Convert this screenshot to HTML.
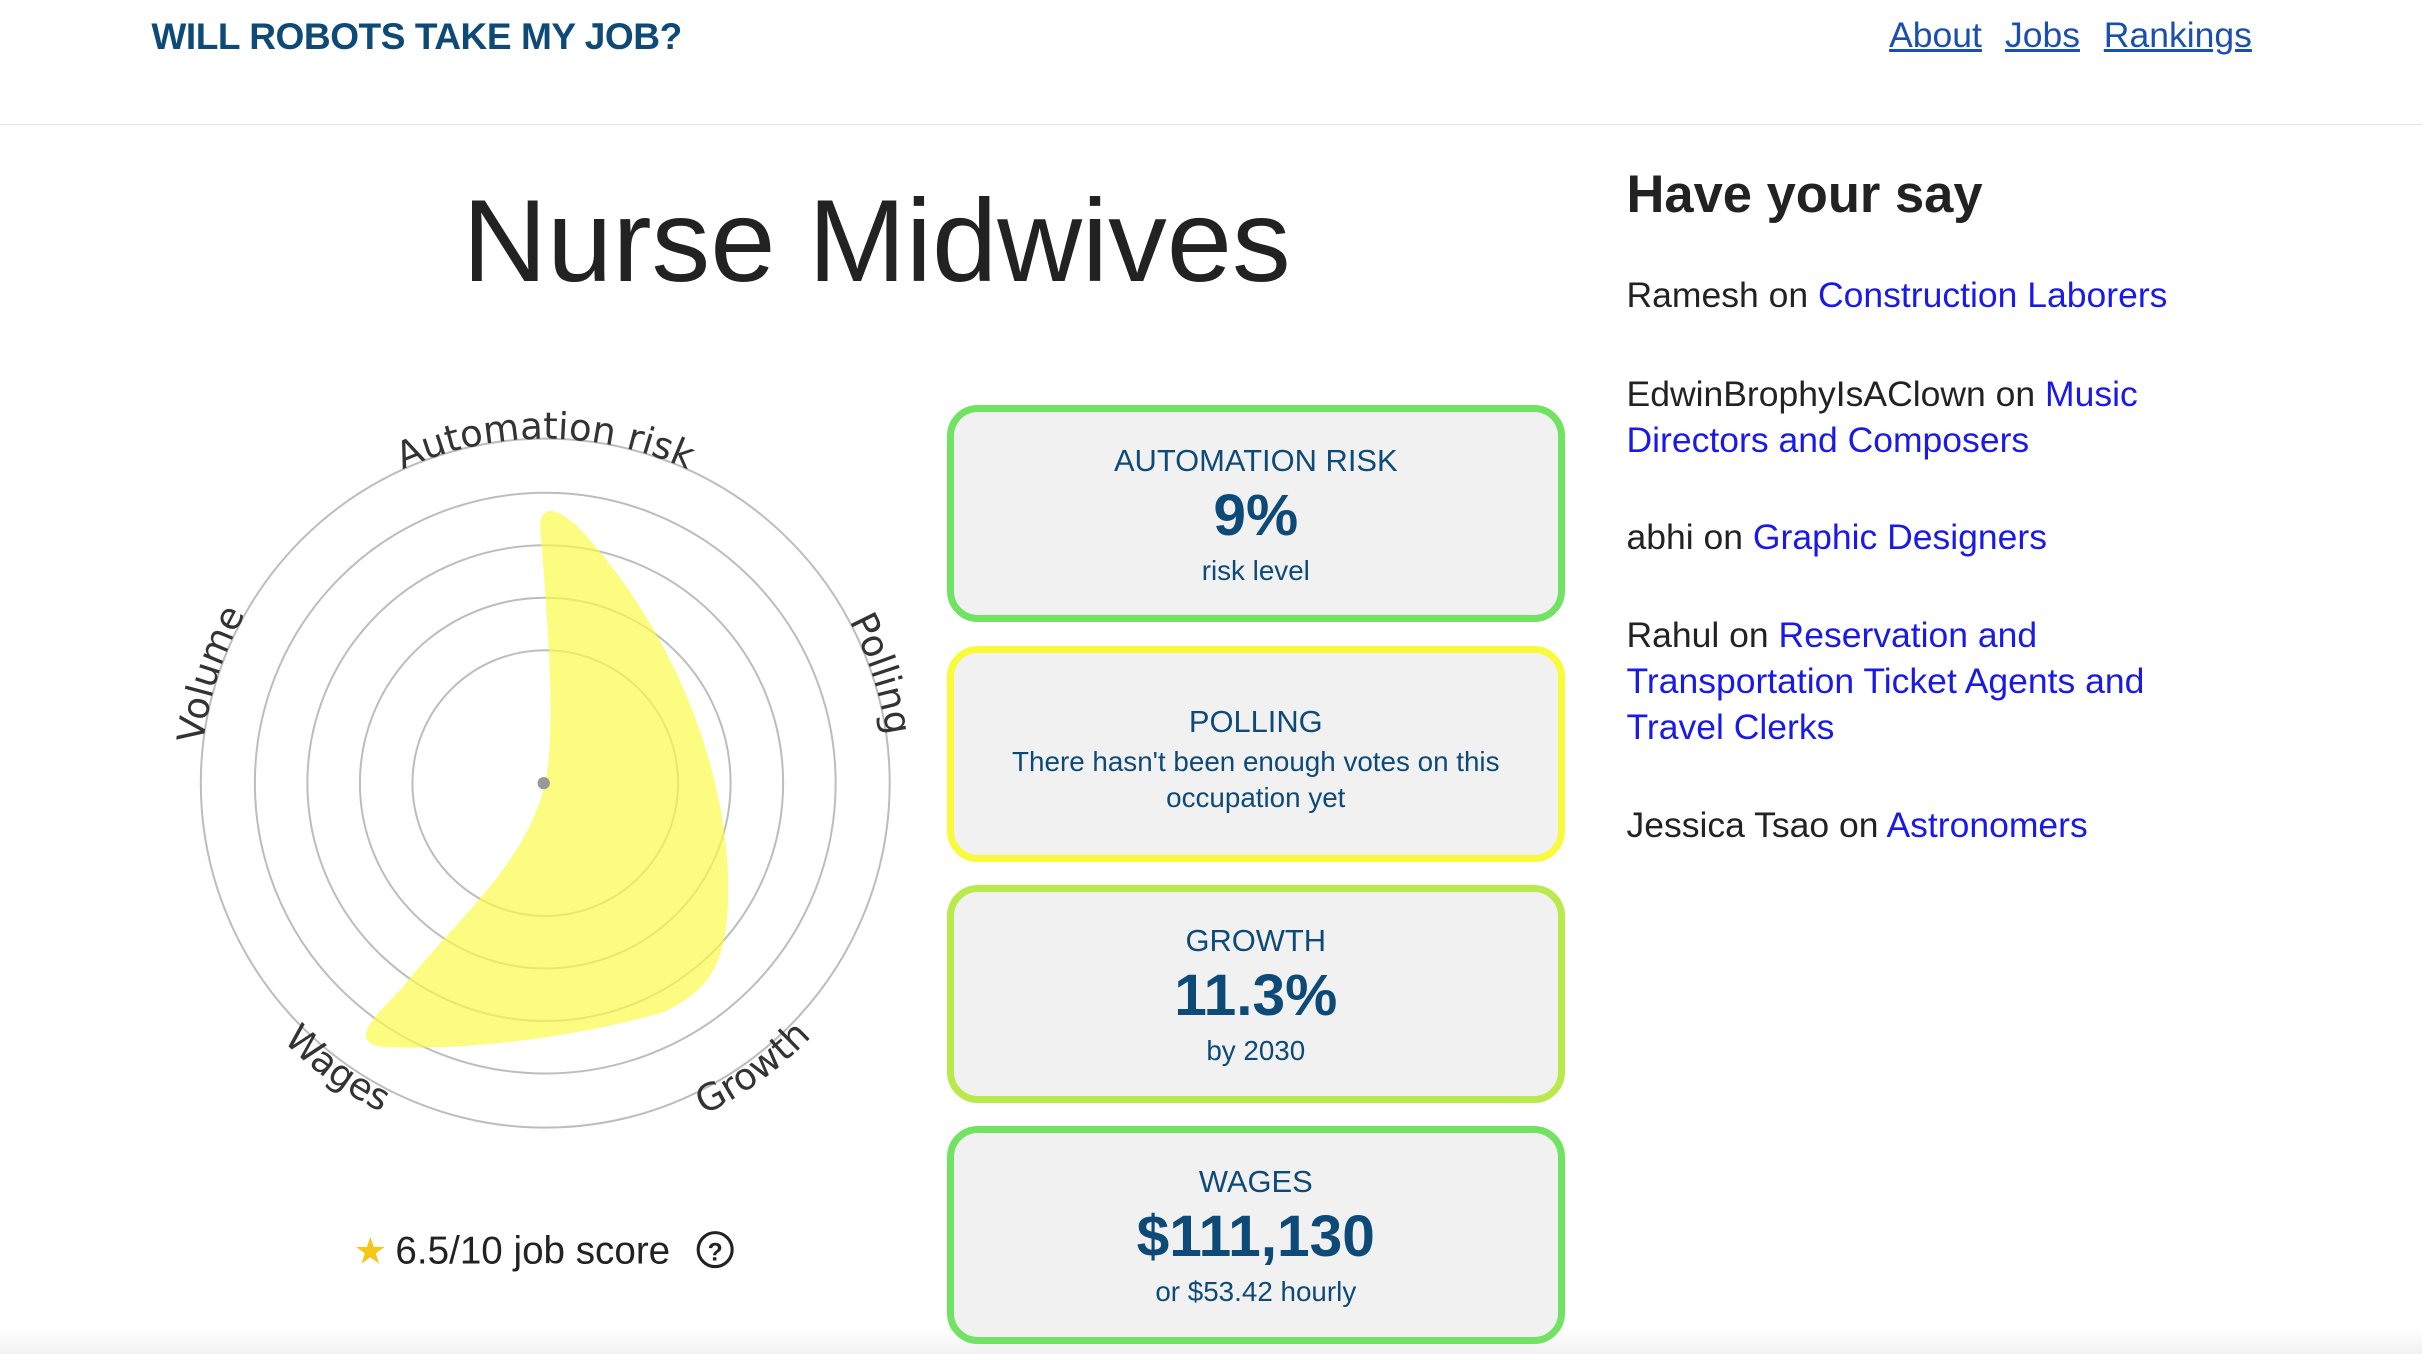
<!DOCTYPE html>
<html><head><meta charset="utf-8"><style>
html,body{margin:0;padding:0;background:#fff;overflow:hidden}
body{width:2422px;height:1354px}
#w{width:1568px;height:877px;position:relative;zoom:1.54464;font-family:"Liberation Sans",sans-serif}
.a{position:absolute}
.brand{left:98px;top:10px;font-size:24px;font-weight:bold;color:#0d4a78;letter-spacing:-0.3px}
.nav{top:10px;font-size:23px;color:#1a4fb0;text-decoration:underline}
.hr{left:0;top:80px;width:1568px;height:1px;background:#e6e6e6}
.h1{left:180px;width:775px;text-align:center;top:112px;font-size:76px;color:#222;font-weight:300;letter-spacing:0px}
.card{left:613px;width:400px;border:5px solid;border-radius:20px;background:#f1f1f1;text-align:center;color:#0d4a78;box-sizing:border-box}
.t{font-size:20px}
.v{font-size:38px;font-weight:bold}
.s{font-size:18px}
.side{left:1053px;font-size:23px;color:#222;line-height:30px;width:380px}
.side a{color:#1a1ae6;text-decoration:none}
</style></head><body><div id="w">
<div class="a" style="left:0;top:862px;width:1568px;height:15px;background:linear-gradient(#fff,#f0f0f0)"></div>
<div class="a brand">WILL ROBOTS TAKE MY JOB?</div>
<div class="a nav" style="left:1223px">About</div>
<div class="a nav" style="left:1298px">Jobs</div>
<div class="a nav" style="left:1362px">Rankings</div>
<div class="a hr"></div>
<div class="a h1">Nurse Midwives</div>
<svg class="a" style="left:0;top:0" width="610" height="877">
<g fill="none" stroke="#bdbdbd" stroke-width="1.3">
<circle cx="353" cy="507" r="223"/><circle cx="353" cy="507" r="188"/><circle cx="353" cy="507" r="154"/><circle cx="353" cy="507" r="120"/><circle cx="353" cy="507" r="86"/></g>
<path d="M353,507 C360,470 355,410 350,345 C348,325 360,328 375,342 C420,390 465,470 471,560 C474,620 462,640 430,655 C380,670 310,680 250,678 C225,676 240,660 260,640 C300,590 340,560 353,507 Z" fill="#fbfb4c" fill-opacity="0.7"/>
<circle cx="352" cy="507" r="4" fill="#999"/>
<defs>
<path id="c1" d="M130,507 A223,223 0 0 1 576,507"/>
<path id="c2" d="M115,507 A238,238 0 0 0 591,507"/>
</defs>
<g font-family="'DejaVu Sans',sans-serif" font-size="24" fill="#333">
<text><textPath href="#c1" startOffset="50%" text-anchor="middle" dy="-18">Automation risk</textPath></text>
<text transform="rotate(-72 353 507)"><textPath href="#c1" startOffset="50%" text-anchor="middle" dy="-18">Volume</textPath></text>
<text transform="rotate(72 353 507)"><textPath href="#c1" startOffset="50%" text-anchor="middle" dy="-18">Polling</textPath></text>
<text transform="rotate(-36 353 507)"><textPath href="#c2" startOffset="50%" text-anchor="middle" dy="20">Growth</textPath></text>
<text transform="rotate(36 353 507)"><textPath href="#c2" startOffset="50%" text-anchor="middle" dy="20">Wages</textPath></text>
</g>
<text x="229" y="818" font-size="24" fill="#f5c518">★</text>
<text x="256" y="818" font-family="Liberation Sans,sans-serif" font-size="25" fill="#222">6.5/10 job score</text>
<circle cx="463" cy="809" r="11" fill="none" stroke="#222" stroke-width="2"/>
<text x="463" y="816" font-size="16" font-weight="bold" text-anchor="middle" fill="#222">?</text>
</svg>
<div class="a card" style="top:262px;height:141px;border-color:#72e262"><div class="t" style="margin-top:20px">AUTOMATION RISK</div><div class="v" style="margin-top:2px">9%</div><div class="s" style="margin-top:4px">risk level</div></div>
<div class="a card" style="top:418px;height:140px;border-color:#fafa3c"><div class="t" style="margin-top:33px">POLLING</div><div class="s" style="margin-top:3px;line-height:23px">There hasn't been enough votes on this<br>occupation yet</div></div>
<div class="a card" style="top:573px;height:141px;border-color:#b9ea4c"><div class="t" style="margin-top:20px">GROWTH</div><div class="v" style="margin-top:2px">11.3%</div><div class="s" style="margin-top:4px">by 2030</div></div>
<div class="a card" style="top:729px;height:141px;border-color:#72e262"><div class="t" style="margin-top:20px">WAGES</div><div class="v" style="margin-top:2px">$111,130</div><div class="s" style="margin-top:4px">or $53.42 hourly</div></div>
<div class="a" style="left:1053px;top:106px;font-size:34px;font-weight:bold;color:#222">Have your say</div>
<div class="a side" style="top:176px">Ramesh on <a>Construction Laborers</a></div>
<div class="a side" style="top:240px">EdwinBrophyIsAClown on <a>Music Directors and Composers</a></div>
<div class="a side" style="top:333px">abhi on <a>Graphic Designers</a></div>
<div class="a side" style="top:396px">Rahul on <a>Reservation and Transportation Ticket Agents and Travel Clerks</a></div>
<div class="a side" style="top:519px">Jessica Tsao on <a>Astronomers</a></div>
</div></body></html>
